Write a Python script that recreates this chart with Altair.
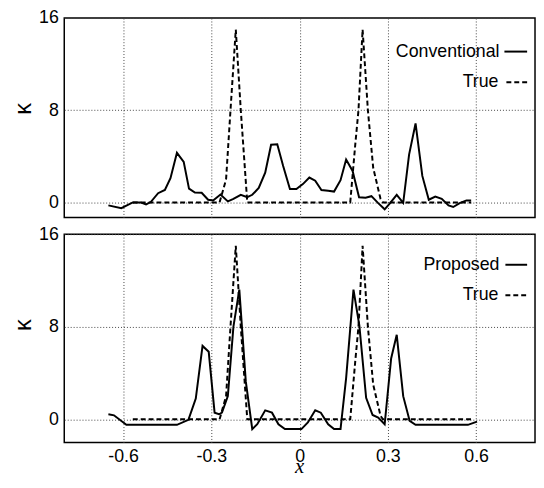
import altair as alt
import pandas as pd

# ---- data ----
conv_x = [-0.65, -0.606, -0.567, -0.541, -0.522, -0.506, -0.481, -0.458, -0.439, -0.417,
          -0.394, -0.376, -0.356, -0.333, -0.311, -0.294, -0.269, -0.244, -0.225, -0.2,
          -0.178, -0.161, -0.139, -0.117, -0.097, -0.076, -0.056, -0.033, -0.011, 0.011,
          0.033, 0.053, 0.074, 0.097, 0.117, 0.139, 0.158, 0.18, 0.202, 0.224,
          0.244, 0.267, 0.289, 0.306, 0.33, 0.352, 0.372, 0.394, 0.417, 0.439,
          0.461, 0.483, 0.506, 0.522, 0.544, 0.567, 0.583]
conv_y = [-0.26, -0.5, 0.0, 0.0, -0.17, 0.03, 0.8, 1.08, 2.1, 4.3,
          3.52, 1.2, 0.85, 0.83, 0.23, 0.17, 0.68, 0.09, 0.3, 0.66,
          0.45, 0.66, 1.25, 2.58, 5.0, 5.05, 3.15, 1.17, 1.17, 1.59,
          2.16, 1.88, 1.08, 1.02, 0.94, 1.93, 3.72, 2.73, 0.45, 0.4,
          0.54, -0.06, -0.6, -0.11, 0.66, -0.03, 4.15, 6.85, 2.3, 0.23,
          0.51, 0.31, -0.26, -0.4, -0.06, 0.17, 0.17]

prop_x = [-0.65, -0.631, -0.589, -0.417, -0.378, -0.353, -0.33, -0.309, -0.289, -0.274,
          -0.264, -0.244, -0.225, -0.205, -0.183, -0.161, -0.144, -0.117, -0.094, -0.072,
          -0.05, 0.006, 0.028, 0.053, 0.072, 0.097, 0.117, 0.139, 0.158, 0.183,
          0.203, 0.226, 0.248, 0.267, 0.289, 0.311, 0.33, 0.352, 0.374, 0.394,
          0.572, 0.603]
prop_y = [0.43, 0.34, -0.48, -0.48, -0.05, 1.79, 6.34, 5.83, 0.57, 0.43,
          0.57, 2.0, 8.0, 11.2, 3.27, -0.85, -0.43, 0.77, 0.57, -0.43,
          -0.85, -0.85, -0.28, 0.77, 0.57, -0.43, -0.85, -0.85, 3.55, 11.2,
          8.1, 1.85, 0.37, 0.14, -0.43, 5.26, 7.3, 2.0, -0.14, -0.48,
          -0.48, -0.2]

true_x = [-0.567, -0.272, -0.25, -0.235, -0.217, -0.2, -0.178, 0.172, 0.189, 0.2,
          0.214, 0.232, 0.25, 0.275, 0.283, 0.583]
true_y = [0, 0, 2, 8, 15, 8, 0, 0, 5, 8,
          15, 8, 3, 0.3, 0, 0]

x_ticks = [-0.6, -0.3, 0, 0.3, 0.6]
y_ticks = [0, 8, 16]

FONT = "Liberation Sans"
SERIF = "Liberation Serif"
DASH = [5, 3]
W = 477

conv_df = pd.DataFrame({"x": conv_x, "k": conv_y, "o": list(range(len(conv_x)))})
prop_df = pd.DataFrame({"x": prop_x, "k": prop_y, "o": list(range(len(prop_x)))})
true_df = pd.DataFrame({"x": true_x, "k": true_y, "o": list(range(len(true_x)))})
one = pd.DataFrame({"a": [0]})

label_expr = "datum.value < 0 ? '-' + format(-datum.value, '~g') : format(datum.value, '~g')"
xscale = alt.Scale(domain=[-0.8, 0.8], nice=False, zero=False)

AX = dict(labelFont=FONT, labelFontSize=18, labelColor="black", domain=False, ticks=False,
          grid=True, gridColor="#444", gridDash=[1, 2], gridWidth=1, gridOpacity=1)


def txt(s, x, y, size=18, align="right", font=FONT, style="normal", angle=0,
        baseline="middle"):
    return alt.Chart(one).mark_text(align=align, baseline=baseline, font=font,
                                    fontSize=size, fontStyle=style, angle=angle,
                                    color="black").encode(
        x=alt.value(x), y=alt.value(y), text=alt.value(s))


def panel(est_df, est_name, ydomain, height, show_x, leg):
    if show_x:
        xaxis = alt.Axis(values=x_ticks, labelExpr=label_expr, title=None,
                         labelPadding=5, **AX)
    else:
        xaxis = alt.Axis(values=x_ticks, labels=False, title=None, **AX)
    yaxis = alt.Axis(values=y_ticks, title=None, labelPadding=6, **AX)
    yscale = alt.Scale(domain=ydomain, nice=False, zero=False)
    x = alt.X("x:Q", scale=xscale, axis=xaxis)
    y = alt.Y("k:Q", scale=yscale, axis=yaxis)

    est = alt.Chart(est_df).mark_line(color="black", strokeWidth=2).encode(
        x=x, y=y, order="o:Q")
    tru = alt.Chart(true_df).mark_line(color="black", strokeWidth=2, strokeDash=DASH).encode(
        x=x, y=y, order="o:Q")

    (t1x, t1y, r1a, r1b), (t2x, t2y, r2a, r2b) = leg
    lab1 = txt(est_name, t1x, t1y)
    lab2 = txt("True", t2x, t2y)
    sym1 = alt.Chart(one).mark_rule(color="black", strokeWidth=2).encode(
        x=alt.value(r1a), x2=alt.value(r1b), y=alt.value(t1y))
    sym2 = alt.Chart(one).mark_rule(color="black", strokeWidth=2, strokeDash=DASH).encode(
        x=alt.value(r2a), x2=alt.value(r2b), y=alt.value(t2y))
    kappa = txt("κ", -41, 92, size=24, align="center", angle=270)

    layers = [tru, est, lab1, lab2, sym1, sym2, kappa]
    if show_x:
        layers.append(txt("x", W / 2, height + 31, size=21, align="center",
                          font=SERIF, style="italic", baseline="alphabetic"))
    return alt.layer(*layers).properties(width=W, height=height)


top = panel(conv_df, "Conventional", [-1.3, 16], 202, False,
            [(441, 34, 446, 469), (440, 65, 448, 469)])
bottom = panel(prop_df, "Proposed", [-2, 16], 211, True,
               [(441, 31, 447, 469), (440, 62, 447, 469)])

chart = alt.vconcat(top, bottom, spacing=17, bounds="flush").properties(
    padding={"left": 3, "top": -3, "right": 0, "bottom": 4},
    background="white"
).configure_view(
    stroke="black", strokeWidth=1.5
)

chart.save("out.html", embed_options={"renderer": "svg", "actions": False})
